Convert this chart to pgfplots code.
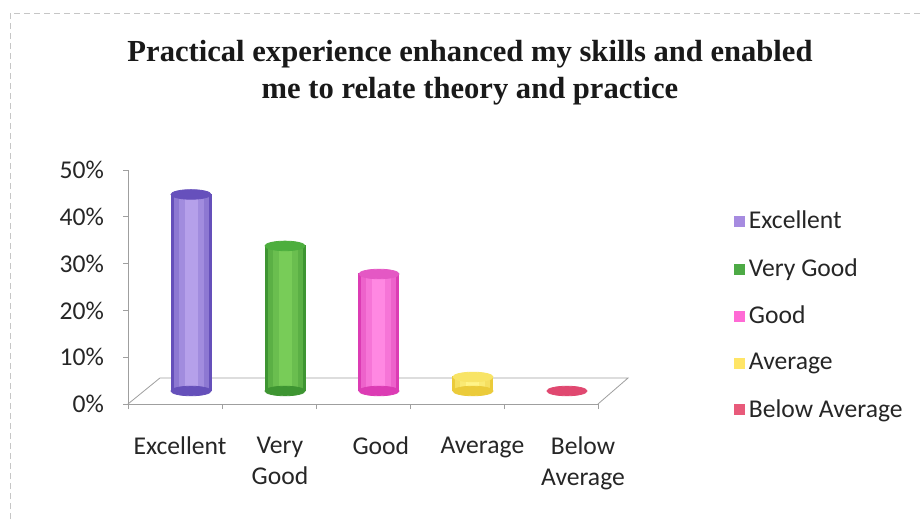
\documentclass[border=0pt]{standalone}
\usepackage{pgfplots}
\pgfplotsset{compat=1.18}
\usepackage{fontspec}
\setmainfont{Carlito}
\newfontfamily\titlefont{Liberation Serif}
\definecolor{exL}{HTML}{B5A0EA}
\definecolor{exD}{HTML}{6550BA}
\definecolor{exT}{HTML}{6650BC}
\definecolor{vgL}{HTML}{78CC58}
\definecolor{vgD}{HTML}{3E9532}
\definecolor{vgT}{HTML}{4DAE3E}
\definecolor{gdL}{HTML}{FF88E2}
\definecolor{gdD}{HTML}{DC3CB4}
\definecolor{gdT}{HTML}{E458C4}
\definecolor{avL}{HTML}{FFF488}
\definecolor{avD}{HTML}{EBCB3A}
\definecolor{avT}{HTML}{F8E466}
\definecolor{baT}{HTML}{E04870}
\definecolor{lg1}{HTML}{A68BE0}
\definecolor{lg2}{HTML}{4DAA45}
\definecolor{lg3}{HTML}{FF6AD5}
\definecolor{lg4}{HTML}{FFE566}
\definecolor{lg5}{HTML}{E85A7A}
\pgfplotsset{
  cyl/.style n args={3}{only marks, mark=*, mark size=10pt,
    mark options={draw=#3, fill=#3, yscale=0.24}},
  body/.style 2 args={ybar, bar width=#1, bar shift=0pt, draw=#2, fill=#2, line width=0pt},
}
\begin{document}
\begin{tikzpicture}
\path[use as bounding box] (0,0) rectangle (460pt,259.5pt);
\fill[white] (0,0) rectangle (460pt,259.5pt);
\draw[gray!45, densely dashed] (5pt,0) -- (5pt,253pt) -- (460pt,253pt);
\node[font=\titlefont\bfseries\fontsize{15.3}{18.5}\selectfont, align=center, text=black!90] at (235pt,223pt)
  {Practical experience enhanced my skills and enabled\\me to relate theory and practice};
\begin{axis}[
  at={(64pt,57.5pt)}, anchor=south west,
  scale only axis, width=235pt, height=117pt,
  xmin=-0.5, xmax=4.5, ymin=0, ymax=50,
  clip=false,
  axis x line*=bottom, axis y line*=left,
  axis line style={gray!75},
  every tick/.style={gray!75},
  tick align=outside, major tick length=2.5pt,
  /pgf/number format/assume math mode=true,
  ytick={0,10,...,50},
  yticklabel={\pgfmathprintnumber{\tick}\%},
  yticklabel style={xshift=-6pt},
  xtick={-0.5,0.5,...,4.5}, xticklabels={},
  extra x ticks={0.053,1.117,2.19,3.27,4.34},
  extra x tick labels={Excellent,{Very\\Good},Good,Average,{Below\\Average}},
  extra x tick style={major tick length=0pt, xticklabel style={align=center, yshift=-13pt}},
  tick label style={font=\fontsize{12.8}{15.5}\selectfont, text=black!85},
  legend style={at={(1.276,0.86)}, anchor=north west, draw=none, fill=none,
    font=\fontsize{12.8}{15}\selectfont, text=black!85, row sep=9.3pt},
  legend cell align=left,
  legend image code/.code={\fill[#1] (-1.5pt,-2.5pt) rectangle (3.5pt,2.5pt);},
]
\addplot[gray!75, forget plot] coordinates {(-0.5,0) (-0.16,5.56) (4.82,5.56) (4.5,0)};
\addlegendimage{lg1, fill=lg1}\addlegendentry{Excellent}
\addlegendimage{lg2, fill=lg2}\addlegendentry{Very Good}
\addlegendimage{lg3, fill=lg3}\addlegendentry{Good}
\addlegendimage{lg4, fill=lg4}\addlegendentry{Average}
\addlegendimage{lg5, fill=lg5}\addlegendentry{Below Average}
\end{axis}
\begin{axis}[
  at={(72pt,64pt)}, anchor=south west,
  scale only axis, width=235pt, height=117pt,
  xmin=-0.5, xmax=4.5, ymin=0, ymax=50,
  hide axis, clip=false,
]
% Excellent 42
\addplot[cyl={}{}{exD}] coordinates {(0,0)};
\addplot[body={20pt}{exD}] coordinates {(0,42)};
\addplot[body={17pt}{exD!50!exL}] coordinates {(0,42)};
\addplot[body={12pt}{exD!25!exL}] coordinates {(0,42)};
\addplot[body={6pt}{exL}] coordinates {(0,42)};
\addplot[cyl={}{}{exT}] coordinates {(0,42)};
% Very Good 31
\addplot[cyl={}{}{vgD}] coordinates {(1,0)};
\addplot[body={20pt}{vgD}] coordinates {(1,31)};
\addplot[body={17pt}{vgD!50!vgL}] coordinates {(1,31)};
\addplot[body={12pt}{vgD!25!vgL}] coordinates {(1,31)};
\addplot[body={6pt}{vgL}] coordinates {(1,31)};
\addplot[cyl={}{}{vgT}] coordinates {(1,31)};
% Good 25
\addplot[cyl={}{}{gdD}] coordinates {(2,0)};
\addplot[body={20pt}{gdD}] coordinates {(2,25)};
\addplot[body={17pt}{gdD!50!gdL}] coordinates {(2,25)};
\addplot[body={12pt}{gdD!25!gdL}] coordinates {(2,25)};
\addplot[body={6pt}{gdL}] coordinates {(2,25)};
\addplot[cyl={}{}{gdT}] coordinates {(2,25)};
% Average 3
\addplot[cyl={}{}{avD}] coordinates {(3,0)};
\addplot[body={20pt}{avD}] coordinates {(3,3)};
\addplot[body={17pt}{avD!50!avL}] coordinates {(3,3)};
\addplot[body={12pt}{avD!25!avL}] coordinates {(3,3)};
\addplot[body={6pt}{avL}] coordinates {(3,3)};
\addplot[cyl={}{}{avT}] coordinates {(3,3)};
% Below Average 0
\addplot[cyl={}{}{baT}] coordinates {(4,0)};
\end{axis}
\end{tikzpicture}
\end{document}
